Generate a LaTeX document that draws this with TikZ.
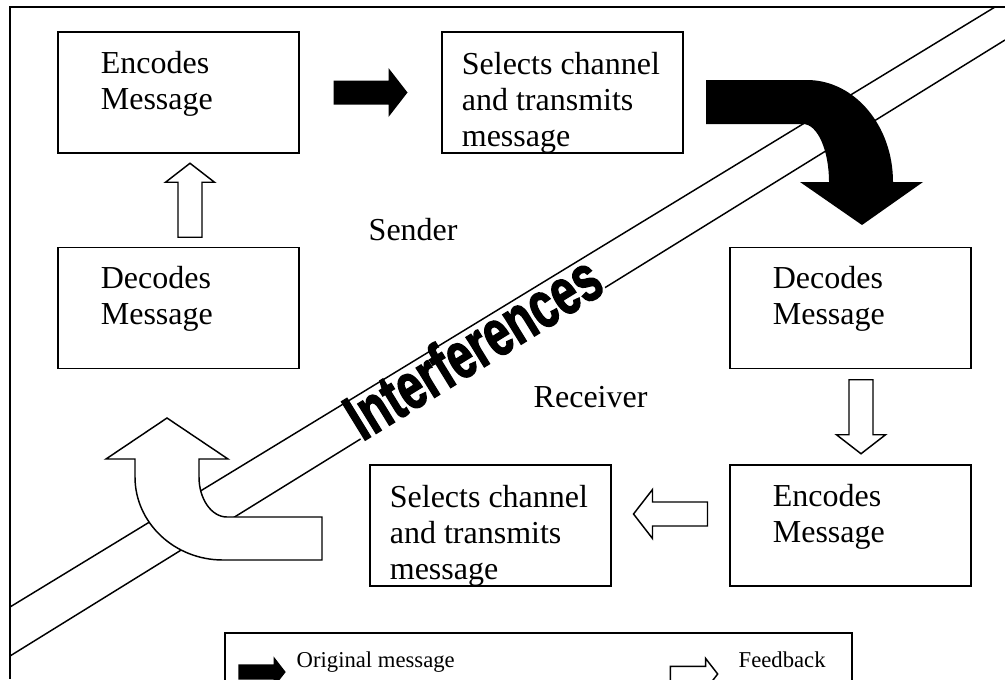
\documentclass[tikz,border=0pt]{standalone}
\usepackage{fontspec}
\setmainfont{Liberation Serif}
\newfontfamily\wordart{Liberation Sans}[BoldFeatures={FakeBold=2.5}]
\usetikzlibrary{calc}
\tikzset{
  barrow/.pic={
    \path[pic actions] (-37,-12) -- (18,-12) -- (18,-24.5) -- (37,0) -- (18,24.5) -- (18,12) -- (-37,12) -- cycle;
  }
}
\begin{document}
\begin{tikzpicture}[x=0.75pt, y=-0.75pt, line width=1.1pt,
    msgbox/.style={draw, line width=1.3pt, inner sep=0pt, minimum width=180.75pt, minimum height=90.75pt},
    boxtext/.style={anchor=north west, align=left, inner sep=0pt, font=\fontsize{24}{27}\selectfont},
    lbl/.style={anchor=base west, inner sep=0pt, font=\fontsize{24}{27}\selectfont},
    keytext/.style={anchor=base west, inner sep=0pt, font=\fontsize{17}{20}\selectfont}]
            \useasboundingbox (0,0) rectangle (1005,679);
            \clip (0,0) rectangle (1005,679);
            \draw[line width=1.3pt] (1005,7) -- (10,7) -- (10,679);
            % interference band
            \draw (10,607) -- (995,7);
            \draw (10,656) -- (1005,40);
            \node[fill=white, inner sep=0pt, text height=26pt, text depth=4pt, rotate=31.6, xscale=0.7, anchor=base west,
                font=\wordart\bfseries\fontsize{49}{50}\selectfont] (intf) at (362,442) {Interferences};
            % sender
            \node[msgbox] (enc1) at (178.5,92.5) {};
            \node[boxtext] (enc1t) at ($(enc1.north west)+(43,19)$) {Encodes\\Message};
            \node[msgbox] (sel1) at (562.5,92.5) {};
            \node[boxtext] (sel1t) at ($(sel1.north west)+(20,20)$) {Selects channel\\and transmits\\message};
            \node[msgbox] (dec1) at (178.5,308) {};
            \node[boxtext] (dec1t) at ($(dec1.north west)+(43,19)$) {Decodes\\Message};
            \node[lbl] (snd) at (368,240) {Sender};
            % receiver
            \node[msgbox] (dec2) at (850.5,308) {};
            \node[boxtext] (dec2t) at ($(dec2.north west)+(43,19)$) {Decodes\\Message};
            \node[msgbox] (enc2) at (850.5,525.5) {};
            \node[boxtext] (enc2t) at ($(enc2.north west)+(43,19)$) {Encodes\\Message};
            \node[msgbox] (sel2) at (490.5,525.5) {};
            \node[boxtext] (sel2t) at ($(sel2.north west)+(20,20)$) {Selects channel\\and transmits\\message};
            \node[lbl] (rcv) at (533,407) {Receiver};
            % bent arrows
            \filldraw[fill=white] (167,418) -- (228,459) -- (199,459) -- (199,477)
                arc[start angle=180, end angle=90, x radius=28, y radius=40] -- (322,517) -- (322,560) -- (223,560)
                arc[start angle=90, end angle=180, x radius=88, y radius=83] -- (135,459) -- (106,459) -- cycle;
            \fill (706,80) -- (807,80) arc[start angle=-90, end angle=0, x radius=86, y radius=102]
                -- (923,182) -- (862,225) -- (800,182) -- (829,182)
                arc[start angle=0, end angle=-90, x radius=26, y radius=58] -- (706,124) -- cycle;
            % straight arrows
            \pic[fill=black] at ($(enc1.east)!.5!(sel1.west)$) {barrow};
            \pic[draw, fill=white, rotate=90] at ($(dec1.north)!.5!(enc1.south)+(11.5,0)$) {barrow};
            \pic[draw, fill=white, rotate=-90] at ($(dec2.south)!.5!(enc2.north)+(10.5,0)$) {barrow};
            \pic[draw, fill=white, rotate=180] at ($(enc2.west)!.5!(sel2.east)+(0,-11.5)$) {barrow};
            % legend
            \node[draw, line width=1.3pt, anchor=north west, inner sep=0pt, minimum width=470.25pt, minimum height=60pt] (key) at (224,632) {};
            \pic[fill=black, scale=0.64] at ($(key.north west)+(38,40)$) {barrow};
            \node[keytext] (orig) at ($(key.north west)+(72,35)$) {Original message};
            \pic[draw, fill=white, scale=0.64] at ($(key.north west)+(470,42)$) {barrow};
            \node[keytext] (fdbk) at ($(key.north west)+(514,35)$) {Feedback};
        \end{tikzpicture}
\end{document}
